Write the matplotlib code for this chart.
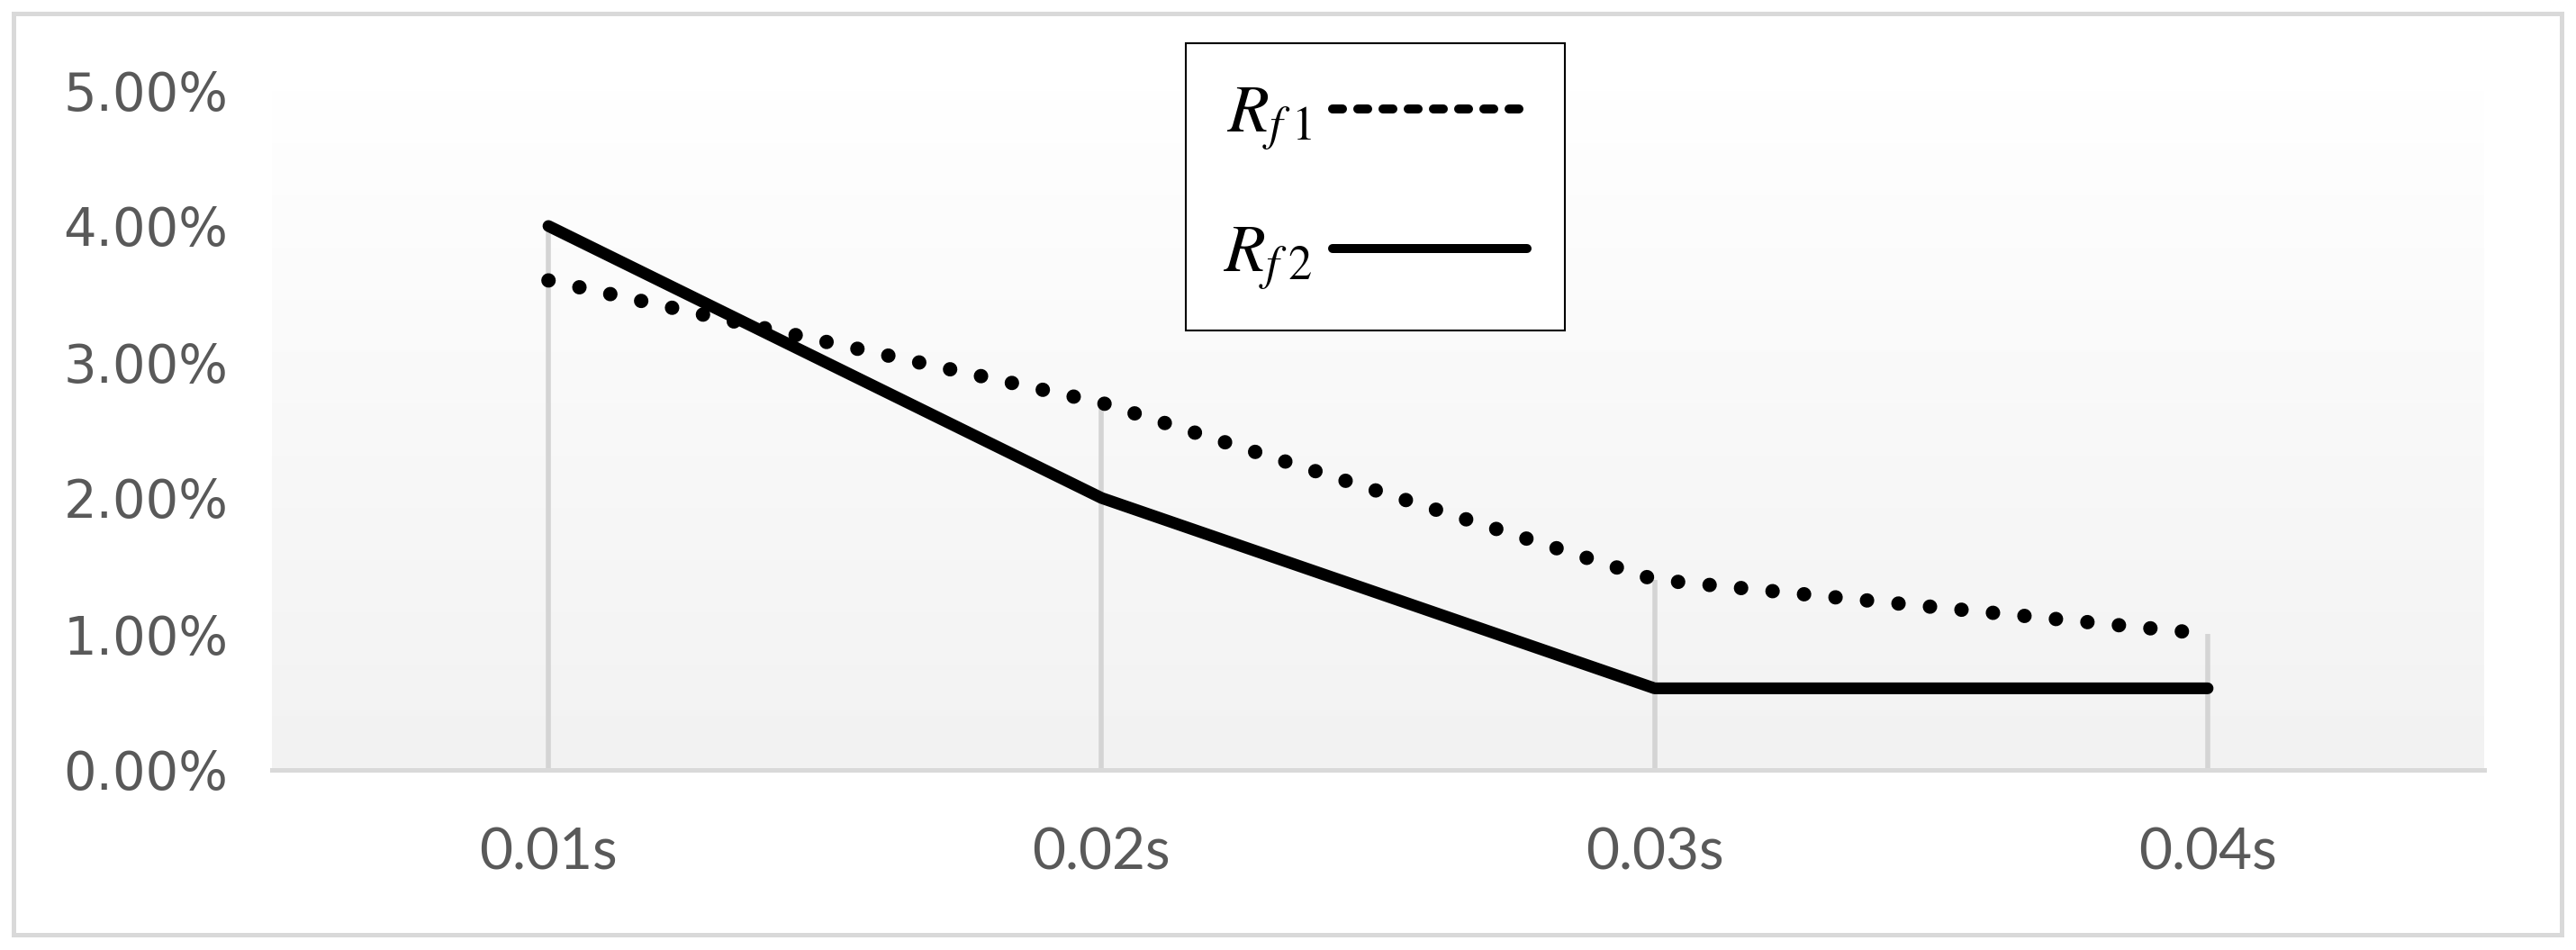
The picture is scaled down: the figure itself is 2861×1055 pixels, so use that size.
import numpy as np
import matplotlib
matplotlib.use("Agg")
import matplotlib.pyplot as plt
from matplotlib.lines import Line2D
from matplotlib.patches import Rectangle
from matplotlib.ticker import PercentFormatter, FixedLocator

# ---- data ----
categories = ["0.01s", "0.02s", "0.03s", "0.04s"]
rf1 = [0.036, 0.027, 0.014, 0.010]   # dotted
rf2 = [0.040, 0.020, 0.006, 0.006]   # solid
labels = [r"$R_{f\;1}$", r"$R_{f\;2}$"]
y_ticks = [0.0, 0.01, 0.02, 0.03, 0.04, 0.05]

plt.rcParams["mathtext.fontset"] = "stix"

W, H = 2861, 1055
fig = plt.figure(figsize=(W / 100, H / 100), dpi=100)
fig.patch.set_facecolor("white")

# outer chart border
fig.patches.append(Rectangle((14.5 / W, 1 - 1037.5 / H), (2844.5 - 14.5) / W, (1037.5 - 14.5) / H,
                             transform=fig.transFigure, fill=False, edgecolor="#d9d9d9",
                             linewidth=3.6, zorder=0))

ax = fig.add_axes([302 / W, 1 - 855 / H, (2759 - 302) / W, (855 - 100) / H])
ax.set_facecolor("none")

x = np.arange(len(categories))
ax.set_xlim(-0.5, len(categories) - 0.5)
ax.set_ylim(0, 0.05)

# gradient background of the plot area
grad = np.linspace(1.0, 0.949, 256).reshape(-1, 1)
ax.imshow(np.dstack([grad, grad, grad]), extent=(0, 1, 0, 1), transform=ax.transAxes,
          aspect="auto", zorder=0, interpolation="bilinear")

# drop lines
tops = np.maximum(rf1, rf2)
ax.vlines(x, 0, tops, colors="#d4d4d4", linewidth=4.0, zorder=1)

# series
ax.plot(x, rf1, color="black", linewidth=11.5, linestyle=(0, (0.01, 2.19)),
        dash_capstyle="round", zorder=3)
ax.plot(x, rf2, color="black", linewidth=9.4, solid_capstyle="round",
        solid_joinstyle="round", zorder=4)

# axes styling
for s in ["top", "right", "left"]:
    ax.spines[s].set_visible(False)
ax.spines["bottom"].set_color("#d9d9d9")
ax.spines["bottom"].set_linewidth(3.6)
ax.spines["bottom"].set_zorder(2)

ax.set_xticks(x)
ax.set_xticklabels(categories, fontfamily="Lato", fontsize=46, color="#595959")
ax.yaxis.set_major_locator(FixedLocator(y_ticks))
ax.yaxis.set_major_formatter(PercentFormatter(xmax=1, decimals=2))
for t in ax.get_yticklabels():
    t.set_fontfamily("DejaVu Sans")
    t.set_fontsize(41.5)
    t.set_color("#595959")
ax.tick_params(axis="x", length=0, pad=46)
ax.tick_params(axis="y", length=0, pad=35)

# legend (label first, line sample on the right)
h1 = Line2D([], [], color="black", linewidth=7.2, linestyle=(0, (1.1, 1.7)),
            dash_capstyle="round")
h2 = Line2D([], [], color="black", linewidth=7.2, solid_capstyle="round")
leg = ax.legend([h1, h2], labels, loc="upper left",
                bbox_to_anchor=(1317 / W, 1 - 48 / H), bbox_transform=fig.transFigure,
                markerfirst=False, fontsize=54, frameon=True, fancybox=False,
                edgecolor="black", framealpha=1, borderpad=0.56, labelspacing=1.0,
                handlelength=2.87, handletextpad=0.3, borderaxespad=0)
leg.get_frame().set_linewidth(1.5)
leg.set_zorder(10)

fig.savefig("out.png", dpi=100, facecolor="white")
